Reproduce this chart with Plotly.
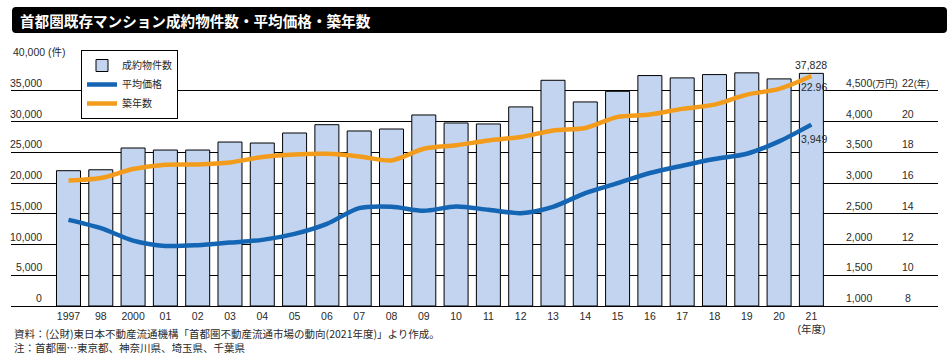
import plotly.graph_objects as go

# ---------------- data ----------------
years = ["1997", "98", "2000", "01", "02", "03", "04", "05", "06", "07", "08", "09",
         "10", "11", "12", "13", "14", "15", "16", "17", "18", "19", "20", "21"]
year_ticktext = years[:-1] + ["21<br>(年度)"]

deals = [22000, 22150, 25690, 25360, 25360, 26660, 26500, 28130, 29480, 28460, 28780, 31060,
         29760, 29600, 32370, 36700, 33180, 34910, 37470, 37090, 37630, 37910, 36930, 37828]
price = [2401, 2266, 2064, 1977, 1989, 2031, 2075, 2173, 2336, 2591, 2613, 2548,
         2618, 2564, 2510, 2612, 2836, 2998, 3162, 3281, 3390, 3476, 3677, 3949]
age = [16.16, 16.32, 16.91, 17.19, 17.21, 17.34, 17.69, 17.86, 17.90, 17.73, 17.47, 18.23,
       18.45, 18.77, 18.99, 19.42, 19.58, 20.30, 20.45, 20.82, 21.10, 21.75, 22.12, 22.96]

left_ticks = [0, 5000, 10000, 15000, 20000, 25000, 30000, 35000, 40000]
price_ticks = [1000, 1500, 2000, 2500, 3000, 3500, 4000, 4500]
age_ticks = [8, 10, 12, 14, 16, 18, 20, 22]

series_names = ["成約物件数", "平均価格", "築年数"]
title_text = "首都圏既存マンション成約物件数・平均価格・築年数"
note1 = "資料：(公財)東日本不動産流通機構「首都圏不動産流通市場の動向(2021年度)」より作成。"
note2 = "注：首都圏…東京都、神奈川県、埼玉県、千葉県"

# ---------------- style ----------------
FONT = "Liberation Sans, Arial, Noto Sans CJK JP, sans-serif"
JFONT = "Noto Sans CJK JP, sans-serif"
TXT = "#2a2a2a"
BAR = "#c2d4ef"
BLUE = "#1466b4"
ORANGE = "#f39c1c"

W, H = 950, 357
ML, MR, MT, MB = 11, 12, 60, 51
PW = W - ML - MR
PH = H - MT - MB


def px_x(px):
    return (px - ML) / PW


def px_y(py):
    return (H - MB - py) / PH


fig = go.Figure()
fig.add_trace(go.Bar(x=years, y=deals, name=series_names[0],
                     marker=dict(color=BAR, line=dict(color="black", width=1)), yaxis="y"))
fig.add_trace(go.Scatter(x=years, y=price, name=series_names[1], mode="lines",
                         line=dict(color=BLUE, width=4.5, shape="spline", smoothing=0.8), yaxis="y2"))
fig.add_trace(go.Scatter(x=years, y=age, name=series_names[2], mode="lines",
                         line=dict(color=ORANGE, width=4.5, shape="spline", smoothing=0.8), yaxis="y3"))

tick_font = dict(size=10.5, color=TXT, family=FONT)
ann = []
# left tick labels
for v in left_ticks:
    if v == left_ticks[-1]:
        ann.append(dict(xref="paper", yref="y", x=px_x(11), y=v, text=f"{v:,} (件)", xanchor="left",
                        yanchor="bottom", showarrow=False, font=tick_font))
    else:
        ann.append(dict(xref="paper", yref="y", x=px_x(44), y=v, text=f"{v:,}", xanchor="right",
                        yanchor="bottom", showarrow=False, font=tick_font))
# right tick labels (price)
for v in price_ticks:
    t = f"{v:,}" + ("<span style='font-size:9.5px'>(万円)</span>" if v == price_ticks[-1] else "")
    ann.append(dict(xref="paper", yref="y2", x=px_x(844), y=v, text=t, xanchor="left",
                    yanchor="bottom", showarrow=False, font=tick_font))
# right tick labels (age)
for v in age_ticks:
    if v == age_ticks[-1]:
        ann.append(dict(xref="paper", yref="y3", x=px_x(900), y=v, text=f"{v}<span style='font-size:9.5px'>(年)</span>",
                        xanchor="left", yanchor="bottom", showarrow=False, font=tick_font))
    else:
        ann.append(dict(xref="paper", yref="y3", x=px_x(908), y=v, text=f"{v}", xanchor="center",
                        yanchor="bottom", showarrow=False, font=tick_font))
# value labels on last year (category index of the last year)
last = len(years) - 1
ann.append(dict(xref="x", yref="y", x=last, y=deals[-1], text=f"{deals[-1]:,}", xanchor="center",
                yanchor="bottom", showarrow=False, font=tick_font))
ann.append(dict(xref="x", yref="y3", x=last, y=age[-1], text=f"{age[-1]:.2f}", xanchor="left", xshift=-12,
                yanchor="top", yshift=-3, showarrow=False, font=tick_font))
ann.append(dict(xref="x", yref="y2", x=last, y=price[-1], text=f"{price[-1]:,}", xanchor="left", xshift=-12,
                yanchor="top", yshift=-6, showarrow=False, font=tick_font))
# title
ann.append(dict(xref="paper", yref="paper", x=px_x(18), y=px_y(20.5), text=f"<b>{title_text}</b>",
                xanchor="left", yanchor="middle", showarrow=False,
                font=dict(size=14.6, color="white", family=JFONT)))
# notes
ann.append(dict(xref="paper", yref="paper", x=px_x(12), y=px_y(333), text=note1, xanchor="left",
                yanchor="middle", showarrow=False, font=dict(size=10.5, color=TXT, family=JFONT)))
ann.append(dict(xref="paper", yref="paper", x=px_x(12), y=px_y(347), text=note2, xanchor="left",
                yanchor="middle", showarrow=False, font=dict(size=10.5, color=TXT, family=JFONT)))

# title bar (rounded rectangle) in paper coords
x0, x1, y0, y1 = px_x(12), px_x(947), px_y(33), px_y(7)
rx, ry = 4 / PW, 4 / PH
path = (f"M {x0+rx},{y1} L {x1-rx},{y1} Q {x1},{y1} {x1},{y1-ry} L {x1},{y0+ry} Q {x1},{y0} {x1-rx},{y0} "
        f"L {x0+rx},{y0} Q {x0},{y0} {x0},{y0+ry} L {x0},{y1-ry} Q {x0},{y1} {x0+rx},{y1} Z")

fig.update_layout(
    width=W, height=H,
    margin=dict(l=ML, r=MR, t=MT, b=MB, pad=0),
    paper_bgcolor="white", plot_bgcolor="white",
    font=dict(family=FONT, size=10.5, color=TXT),
    bargap=0.257,
    showlegend=True,
    legend=dict(x=px_x(81), y=px_y(50), xanchor="left", yanchor="top", bgcolor="white",
                bordercolor="black", borderwidth=1, font=dict(size=10, family=JFONT, color=TXT),
                tracegroupgap=0, itemwidth=30),
    xaxis=dict(type="category", categoryorder="array", categoryarray=years,
               range=[-1.78, 26.92], tickmode="array", tickvals=years, ticktext=year_ticktext,
               showgrid=False, showline=True, linecolor="black", linewidth=1, ticks="",
               tickfont=tick_font, fixedrange=True),
    yaxis=dict(range=[0, 40000], tickmode="array", tickvals=left_ticks, showticklabels=False,
               showgrid=True, gridcolor="black", gridwidth=1, zeroline=False, showline=False, ticks=""),
    yaxis2=dict(range=[1000, 5000], overlaying="y", visible=False, showgrid=False),
    yaxis3=dict(range=[8, 24], overlaying="y", visible=False, showgrid=False),
    annotations=ann,
    shapes=[dict(type="path", xref="paper", yref="paper", path=path, fillcolor="black",
                 line=dict(width=0), layer="above")],
)

fig.write_html("out.html", config={"displayModeBar": False},
               post_script="document.body.style.margin='0';document.body.style.overflow='hidden';")
